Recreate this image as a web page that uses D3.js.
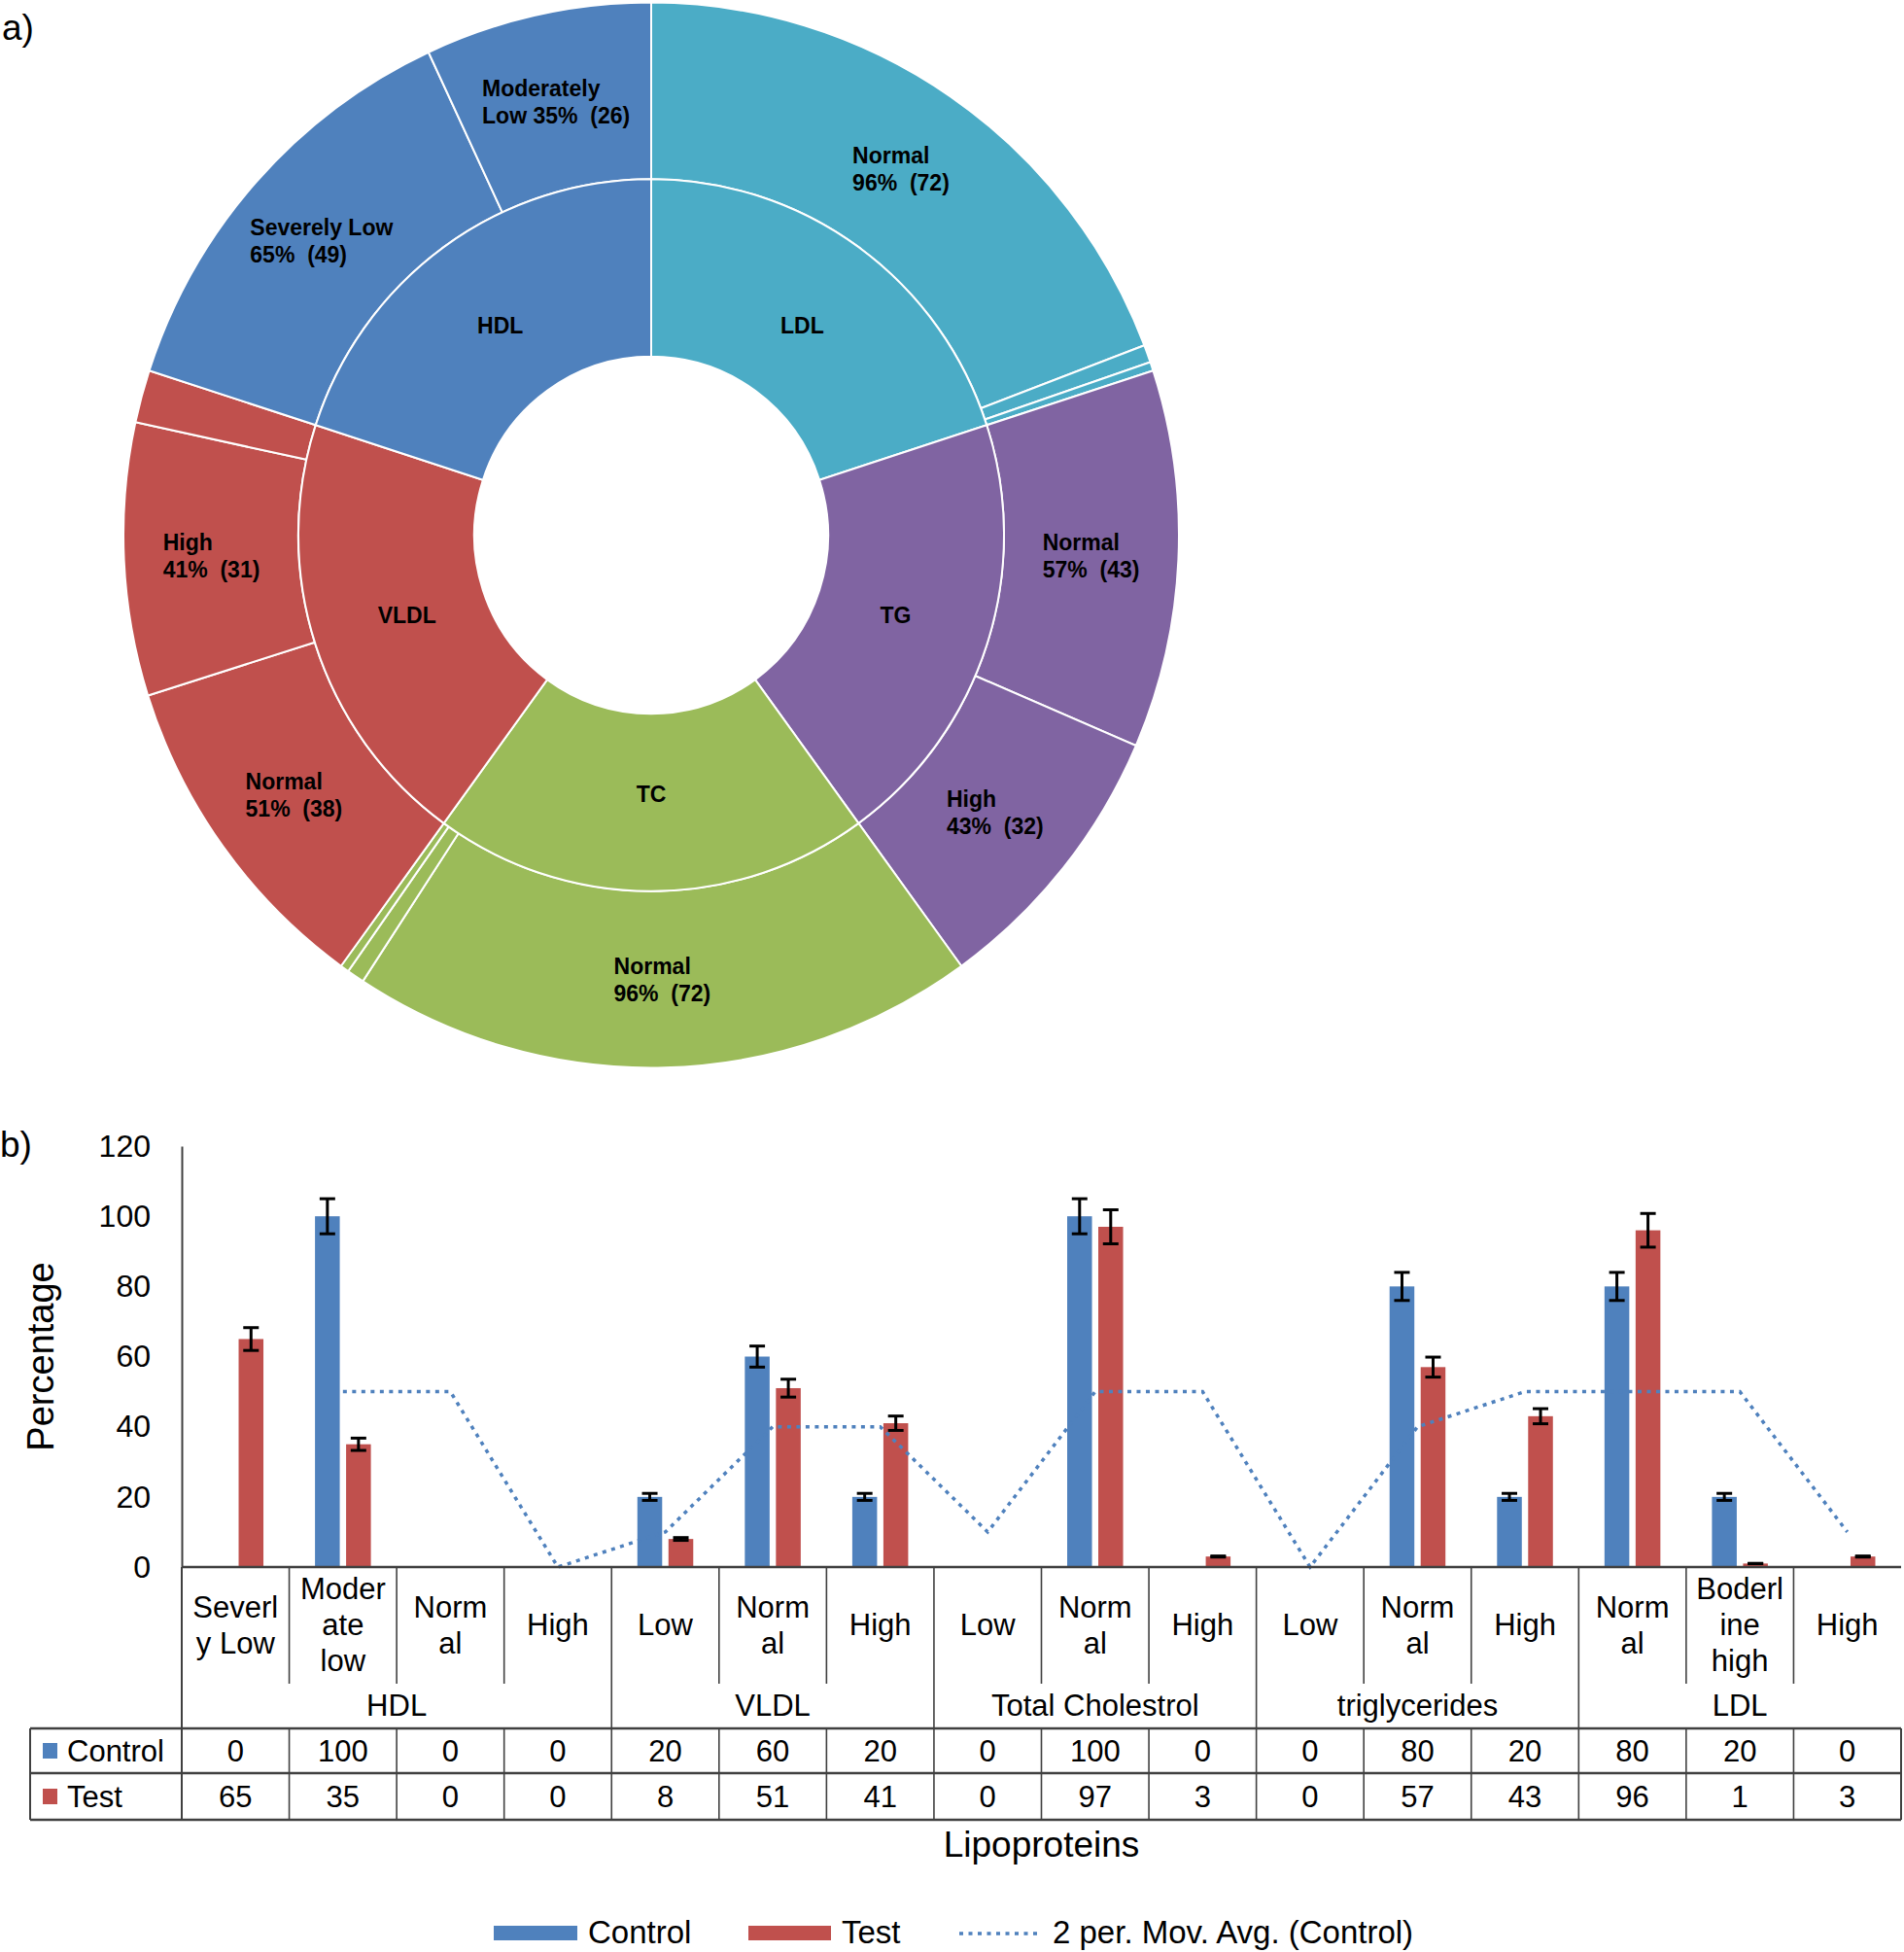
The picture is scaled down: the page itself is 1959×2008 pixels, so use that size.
<!DOCTYPE html>
<html><head><meta charset="utf-8">
<script src="https://cdn.jsdelivr.net/npm/d3@7"></script>
<style>
body{margin:0;background:#fff}
svg{display:block}
text{font-family:"Liberation Sans",Arial,Helvetica,sans-serif;fill:#000}
</style>
</head><body>
<svg id="chart" width="1959" height="2008"></svg>
<script>
// ================= DATA =================
// (a) doughnut / sunburst
const innerCategories = ["LDL", "TG", "TC", "VLDL", "HDL"];
const innerCounts = [75, 75, 75, 75, 75];
const groupColors = {LDL: "#4BACC6", TG: "#8064A2", TC: "#9BBB59", VLDL: "#C0504D", HDL: "#4F81BD"};
const outerParents = ["LDL","LDL","LDL","TG","TG","TC","TC","TC","VLDL","VLDL","VLDL","HDL","HDL"];
const outerNames = ["Normal","High","Borderline high","Normal","High","Normal","High","Borderline high","Normal","High","Low","Severely Low","Moderately Low"];
const outerCounts = [72, 2, 1, 43, 32, 72, 2, 1, 38, 31, 6, 49, 26];
const outerPercents = [96, 3, 1, 57, 43, 96, 3, 1, 51, 41, 8, 65, 35];
const outerShowLabel = [true,false,false,true,true,true,false,false,true,true,false,true,true];

// (b) bar chart with data table
const subcategoryLines = [
  ["Severl","y Low"],["Moder","ate","low"],["Norm","al"],["High"],
  ["Low"],["Norm","al"],["High"],
  ["Low"],["Norm","al"],["High"],
  ["Low"],["Norm","al"],["High"],
  ["Norm","al"],["Boderl","ine","high"],["High"]
];
const groupNames = ["HDL", "VLDL", "Total Cholestrol", "triglycerides", "LDL"];
const groupSizes = [4, 3, 3, 3, 3];
const seriesNames = ["Control", "Test"];
const controlValues = [0, 100, 0, 0, 20, 60, 20, 0, 100, 0, 0, 80, 20, 80, 20, 0];
const testValues    = [65, 35, 0, 0, 8, 51, 41, 0, 97, 3, 0, 57, 43, 96, 1, 3];
const controlErrors = [0, 5, 0, 0, 1, 3, 1, 0, 5, 0, 0, 4, 1, 4, 1, 0];
const testErrors    = [3.25, 1.75, 0, 0, 0.4, 2.55, 2.05, 0, 4.85, 0.15, 0, 2.85, 2.15, 4.8, 0.05, 0.15];
const movingAvgControl = [null, 50, 50, 0, 10, 40, 40, 10, 50, 50, 0, 40, 50, 50, 50, 10];
const yTicks = [0, 20, 40, 60, 80, 100, 120];
const seriesColors = ["#4F81BD", "#C0504D"];

// ================= DRAW =================
const svg = d3.select("#chart");
svg.append("rect").attr("width", 1959).attr("height", 2008).attr("fill", "#fff");

// ---------- (a) ----------
const cx = 670, cy = 550.5, rHole = 182, rMid = 363, rOut = 543, yStretch = 1.009;
const gA = svg.append("g").attr("transform", `translate(${cx},${cy}) scale(1,${yStretch})`);
const gAL = svg.append("g").attr("transform", `translate(${cx},${cy})`);
const pie = d3.pie().sort(null).value(d => d).startAngle(0).endAngle(2 * Math.PI);
const innerArcs = pie(innerCounts);
const outerArcs = pie(outerCounts);
const arcInner = d3.arc().innerRadius(rHole).outerRadius(rMid);
const arcOuter = d3.arc().innerRadius(rMid).outerRadius(rOut);

gA.selectAll("path.outer").data(outerArcs).join("path")
  .attr("class", "outer")
  .attr("d", arcOuter)
  .attr("fill", (d, i) => groupColors[outerParents[i]])
  .attr("stroke", "#fff").attr("stroke-width", 2).attr("stroke-linejoin", "round");
gA.selectAll("path.inner").data(innerArcs).join("path")
  .attr("class", "inner")
  .attr("d", arcInner)
  .attr("fill", (d, i) => groupColors[innerCategories[i]])
  .attr("stroke", "#fff").attr("stroke-width", 2).attr("stroke-linejoin", "round");

const pieFont = 23, pieLine = 28;
function blockLabel(g, lines, px, py) {
  const t = g.append("text").attr("font-size", pieFont).attr("font-weight", "bold")
    .attr("xml:space", "preserve").style("white-space", "pre");
  const n = lines.length;
  const spans = lines.map((s, k) => t.append("tspan").text(s)
      .attr("y", py - (n - 1) * pieLine / 2 + k * pieLine + pieFont * 0.36));
  const w = d3.max(spans, s => s.node().getComputedTextLength());
  spans.forEach(s => s.attr("x", px - w / 2));
}
function measure(str) {
  const t = gAL.append("text").attr("font-size", pieFont).attr("font-weight", "bold").text(str);
  const w = t.node().getComputedTextLength(); t.remove(); return w;
}
// label anchor: area centroid of the annular sector
function areaCentroid(d, r0, r1) {
  const a = (d.startAngle + d.endAngle) / 2, h = (d.endAngle - d.startAngle) / 2;
  const rc = (2 / 3) * (r1 ** 3 - r0 ** 3) / (r1 ** 2 - r0 ** 2) * Math.sin(h) / h;
  return [rc * Math.sin(a), -rc * Math.cos(a) * yStretch];
}
outerArcs.forEach((d, i) => {
  if (!outerShowLabel[i]) return;
  const [px, py] = arcOuter.centroid(d);
  let name = outerNames[i];
  let val = `${outerPercents[i]}%\u00a0 (${outerCounts[i]})`;
  let lines;
  if (measure(name) > 155) {
    const k = name.lastIndexOf(" ");
    lines = [name.slice(0, k), name.slice(k + 1) + " " + val];
  } else lines = [name, val];
  blockLabel(gAL, lines, px, py * yStretch);
});
innerArcs.forEach((d, i) => {
  const [px, py] = areaCentroid(d, rHole, rMid);
  blockLabel(gAL, [innerCategories[i]], px, py);
});
svg.append("text").attr("x", 2).attr("y", 41).attr("font-size", 37).text("a)");

// ---------- (b) ----------
const x = d3.scaleBand().domain(d3.range(subcategoryLines.length)).range([187, 1956]).padding(0);
const y = d3.scaleLinear().domain([0, 120]).range([1612, 1179]);
const y0 = y(0);
const barW = 25.5, barGap = 6.5;
const cxBand = i => x(i) + x.bandwidth() / 2;
const barX = (i, s) => cxBand(i) - barW - barGap / 2 + s * (barW + barGap);

svg.append("text").attr("x", 0).attr("y", 1190).attr("font-size", 37).text("b)");

// y axis
const yAxis = d3.axisLeft(y).tickValues(yTicks).tickSizeInner(0).tickSizeOuter(0).tickPadding(32);
const gy = svg.append("g").attr("transform", "translate(187,0)").call(yAxis);
gy.select(".domain").attr("stroke", "#404040").attr("stroke-width", 2);
gy.selectAll(".tick text").attr("font-size", 32).attr("font-family", '"Liberation Sans",Arial,sans-serif').attr("fill", "#000");

// bars
const series = [controlValues, testValues];
const errs = [controlErrors, testErrors];
series.forEach((vals, s) => {
  svg.append("g").selectAll("rect").data(vals).join("rect")
    .attr("x", (d, i) => barX(i, s))
    .attr("y", d => y(d))
    .attr("width", barW)
    .attr("height", d => y0 - y(d))
    .attr("fill", seriesColors[s]);
});

// moving average (dotted)
const maLine = d3.line().defined(d => d != null).x((d, i) => cxBand(i)).y(d => y(d));
svg.append("path").attr("d", maLine(movingAvgControl))
  .attr("fill", "none").attr("stroke", "#4F81BD").attr("stroke-width", 3.5)
  .attr("stroke-dasharray", "4 5.5");

// error bars
series.forEach((vals, s) => {
  const g = svg.append("g").attr("stroke", "#000").attr("stroke-width", 3);
  vals.forEach((v, i) => {
    if (v === 0) return;
    const ex = barX(i, s) + barW / 2, e = errs[s][i];
    const yt = y(v + e), yb = y(v - e);
    g.append("line").attr("x1", ex).attr("x2", ex).attr("y1", yt).attr("y2", yb);
    g.append("line").attr("x1", ex - 8).attr("x2", ex + 8).attr("y1", yt).attr("y2", yt);
    g.append("line").attr("x1", ex - 8).attr("x2", ex + 8).attr("y1", yb).attr("y2", yb);
  });
});

// data table
const tableLeft = 31, subBottom = 1732, headBottom = 1778, row1Bottom = 1824, row2Bottom = 1872;
const xEnd = x.range()[1];
const gT = svg.append("g");
const lineCol = "#404040";
const groupStarts = [];
let acc = 0; groupSizes.forEach(n => { groupStarts.push(acc); acc += n; });
const n = subcategoryLines.length;
for (let i = 1; i < n; i++) {
  const isGroup = groupStarts.includes(i);
  gT.append("line").attr("x1", x(i)).attr("x2", x(i))
    .attr("y1", y0).attr("y2", isGroup ? row2Bottom : subBottom)
    .attr("stroke", lineCol).attr("stroke-width", 1.6);
  if (!isGroup) gT.append("line").attr("x1", x(i)).attr("x2", x(i))
    .attr("y1", headBottom).attr("y2", row2Bottom)
    .attr("stroke", lineCol).attr("stroke-width", 1.6);
}
gT.append("line").attr("x1", 187).attr("x2", 187).attr("y1", y0).attr("y2", row2Bottom).attr("stroke", lineCol).attr("stroke-width", 2);
gT.append("line").attr("x1", tableLeft).attr("x2", tableLeft).attr("y1", headBottom).attr("y2", row2Bottom).attr("stroke", lineCol).attr("stroke-width", 2);
gT.append("line").attr("x1", xEnd).attr("x2", xEnd).attr("y1", headBottom).attr("y2", row2Bottom).attr("stroke", lineCol).attr("stroke-width", 2);
gT.append("line").attr("x1", 187).attr("x2", xEnd).attr("y1", y0).attr("y2", y0).attr("stroke", lineCol).attr("stroke-width", 2.6);
[headBottom, row1Bottom, row2Bottom].forEach(yy =>
  gT.append("line").attr("x1", tableLeft).attr("x2", xEnd).attr("y1", yy).attr("y2", yy)
    .attr("stroke", lineCol).attr("stroke-width", 2.6));

const tFont = 31, tLine = 37, headCenter = 1671;
subcategoryLines.forEach((lines, i) => {
  const t = gT.append("text").attr("font-size", tFont).attr("text-anchor", "middle");
  lines.forEach((s, k) => t.append("tspan").attr("x", cxBand(i))
    .attr("y", headCenter - (lines.length - 1) * tLine / 2 + k * tLine + 11).text(s));
});
groupNames.forEach((g, j) => {
  const a = x(groupStarts[j]), b = x(groupStarts[j] + groupSizes[j] - 1) + x.bandwidth();
  gT.append("text").attr("font-size", tFont).attr("text-anchor", "middle")
    .attr("x", (a + b) / 2).attr("y", 1765).text(g);
});
const rowBase = [1812, 1859];
series.forEach((vals, s) => {
  gT.append("rect").attr("x", 44).attr("y", rowBase[s] - 19).attr("width", 15).attr("height", 16).attr("fill", seriesColors[s]);
  gT.append("text").attr("font-size", tFont).attr("x", 69).attr("y", rowBase[s]).text(seriesNames[s]);
  vals.forEach((v, i) => gT.append("text").attr("font-size", tFont).attr("text-anchor", "middle")
    .attr("x", cxBand(i)).attr("y", rowBase[s]).text(v));
});

// axis titles
svg.append("text").attr("font-size", 38).attr("text-anchor", "middle")
  .attr("transform", `translate(55,${(y(0) + y(120)) / 2}) rotate(-90)`).text("Percentage");
svg.append("text").attr("font-size", 37).attr("text-anchor", "middle")
  .attr("x", (187 + xEnd) / 2).attr("y", 1910).text("Lipoproteins");

// legend
const gL = svg.append("g");
const legY = 1989, legBase = 1999;
gL.append("rect").attr("x", 508).attr("y", legY - 8).attr("width", 86).attr("height", 15).attr("fill", seriesColors[0]);
gL.append("text").attr("font-size", 33).attr("x", 605).attr("y", legBase).text(seriesNames[0]);
gL.append("rect").attr("x", 770).attr("y", legY - 8).attr("width", 85).attr("height", 15).attr("fill", seriesColors[1]);
gL.append("text").attr("font-size", 33).attr("x", 866).attr("y", legBase).text(seriesNames[1]);
gL.append("line").attr("x1", 987).attr("x2", 1072).attr("y1", legY).attr("y2", legY)
  .attr("stroke", "#4F81BD").attr("stroke-width", 3.5).attr("stroke-dasharray", "4 5.5");
gL.append("text").attr("font-size", 33).attr("x", 1083).attr("y", legBase).text("2 per. Mov. Avg. (Control)");
</script>
</body></html>
